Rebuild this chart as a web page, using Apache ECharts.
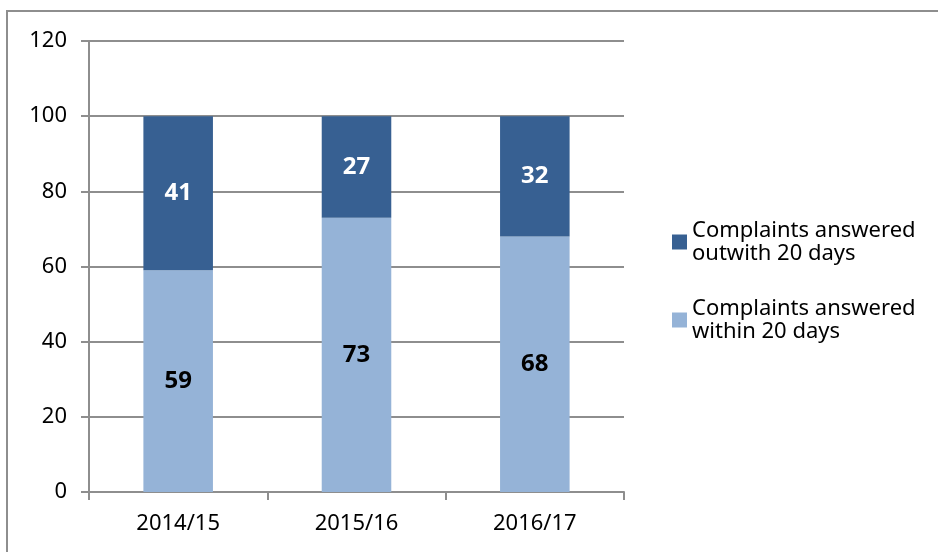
<!DOCTYPE html>
<html lang="en">
<head>
    <meta charset="utf-8">
    <title>Complaints answered</title>
    <script src="https://cdn.jsdelivr.net/npm/echarts@6/dist/echarts.min.js"></script>
    <style>
        html, body { margin: 0; padding: 0; background: #fff; }
        #frame { position: absolute; left: 6px; top: 10px; width: 940px; height: 560px;
                 border-top: 2px solid #8e8e8e; border-left: 2px solid #8e8e8e; }
        #main { position: absolute; left: 0; top: 0; width: 938px; height: 552px; }
    </style>
</head>
<body>
<div id="frame"></div>
<div id="main"></div>
<script type="text/javascript">
    var years = ['2014/15', '2015/16', '2016/17'];
    var within = [59, 73, 68];
    var outwith = [41, 27, 32];
    var yTicks = [0, 20, 40, 60, 80, 100, 120];

    var fontName = 'Noto Sans';
    var legendText = {
        'Complaints answered outwith 20 days': 'Complaints answered\noutwith 20 days',
        'Complaints answered within 20 days': 'Complaints answered\nwithin 20 days'
    };

    var myChart = echarts.init(document.getElementById('main'));
    var option = {
        animation: false,
        textStyle: { fontFamily: fontName },
        grid: { left: 89, top: 41, right: 314, bottom: 60 },
        legend: {
            orient: 'vertical',
            left: 667,
            top: 214,
            icon: 'rect',
            itemWidth: 15,
            itemHeight: 15,
            itemGap: 32,
            data: ['Complaints answered outwith 20 days', 'Complaints answered within 20 days'],
            formatter: function (name) { return legendText[name]; },
            textStyle: { fontSize: 22, color: '#000', lineHeight: 23, fontFamily: fontName }
        },
        xAxis: {
            type: 'category',
            data: years,
            axisLine: { lineStyle: { color: '#8e8e8e', width: 2 } },
            axisTick: { show: true, length: 8, lineStyle: { color: '#8e8e8e', width: 2 } },
            axisLabel: { color: '#000', fontSize: 22, margin: 21, fontFamily: fontName }
        },
        yAxis: {
            type: 'value',
            min: yTicks[0],
            max: yTicks[yTicks.length - 1],
            interval: 20,
            axisLine: { show: true, lineStyle: { color: '#8e8e8e', width: 2 } },
            axisTick: { show: true, length: 8, lineStyle: { color: '#8e8e8e', width: 2 } },
            splitLine: { lineStyle: { color: '#8e8e8e', width: 2 } },
            axisLabel: { color: '#000', fontSize: 22, margin: 22, fontFamily: fontName }
        },
        series: [{
            name: 'Complaints answered within 20 days',
            type: 'bar',
            stack: 'total',
            barWidth: '39%',
            data: within,
            itemStyle: { color: '#95b3d7' },
            label: { show: true, position: 'inside', color: '#000', fontSize: 24, fontWeight: 'bold', fontFamily: fontName }
        }, {
            name: 'Complaints answered outwith 20 days',
            type: 'bar',
            stack: 'total',
            barWidth: '39%',
            data: outwith,
            itemStyle: { color: '#376092' },
            label: { show: true, position: 'inside', color: '#fff', fontSize: 24, fontWeight: 'bold', fontFamily: fontName }
        }]
    };

    myChart.setOption(option);
</script>
</body>
</html>
